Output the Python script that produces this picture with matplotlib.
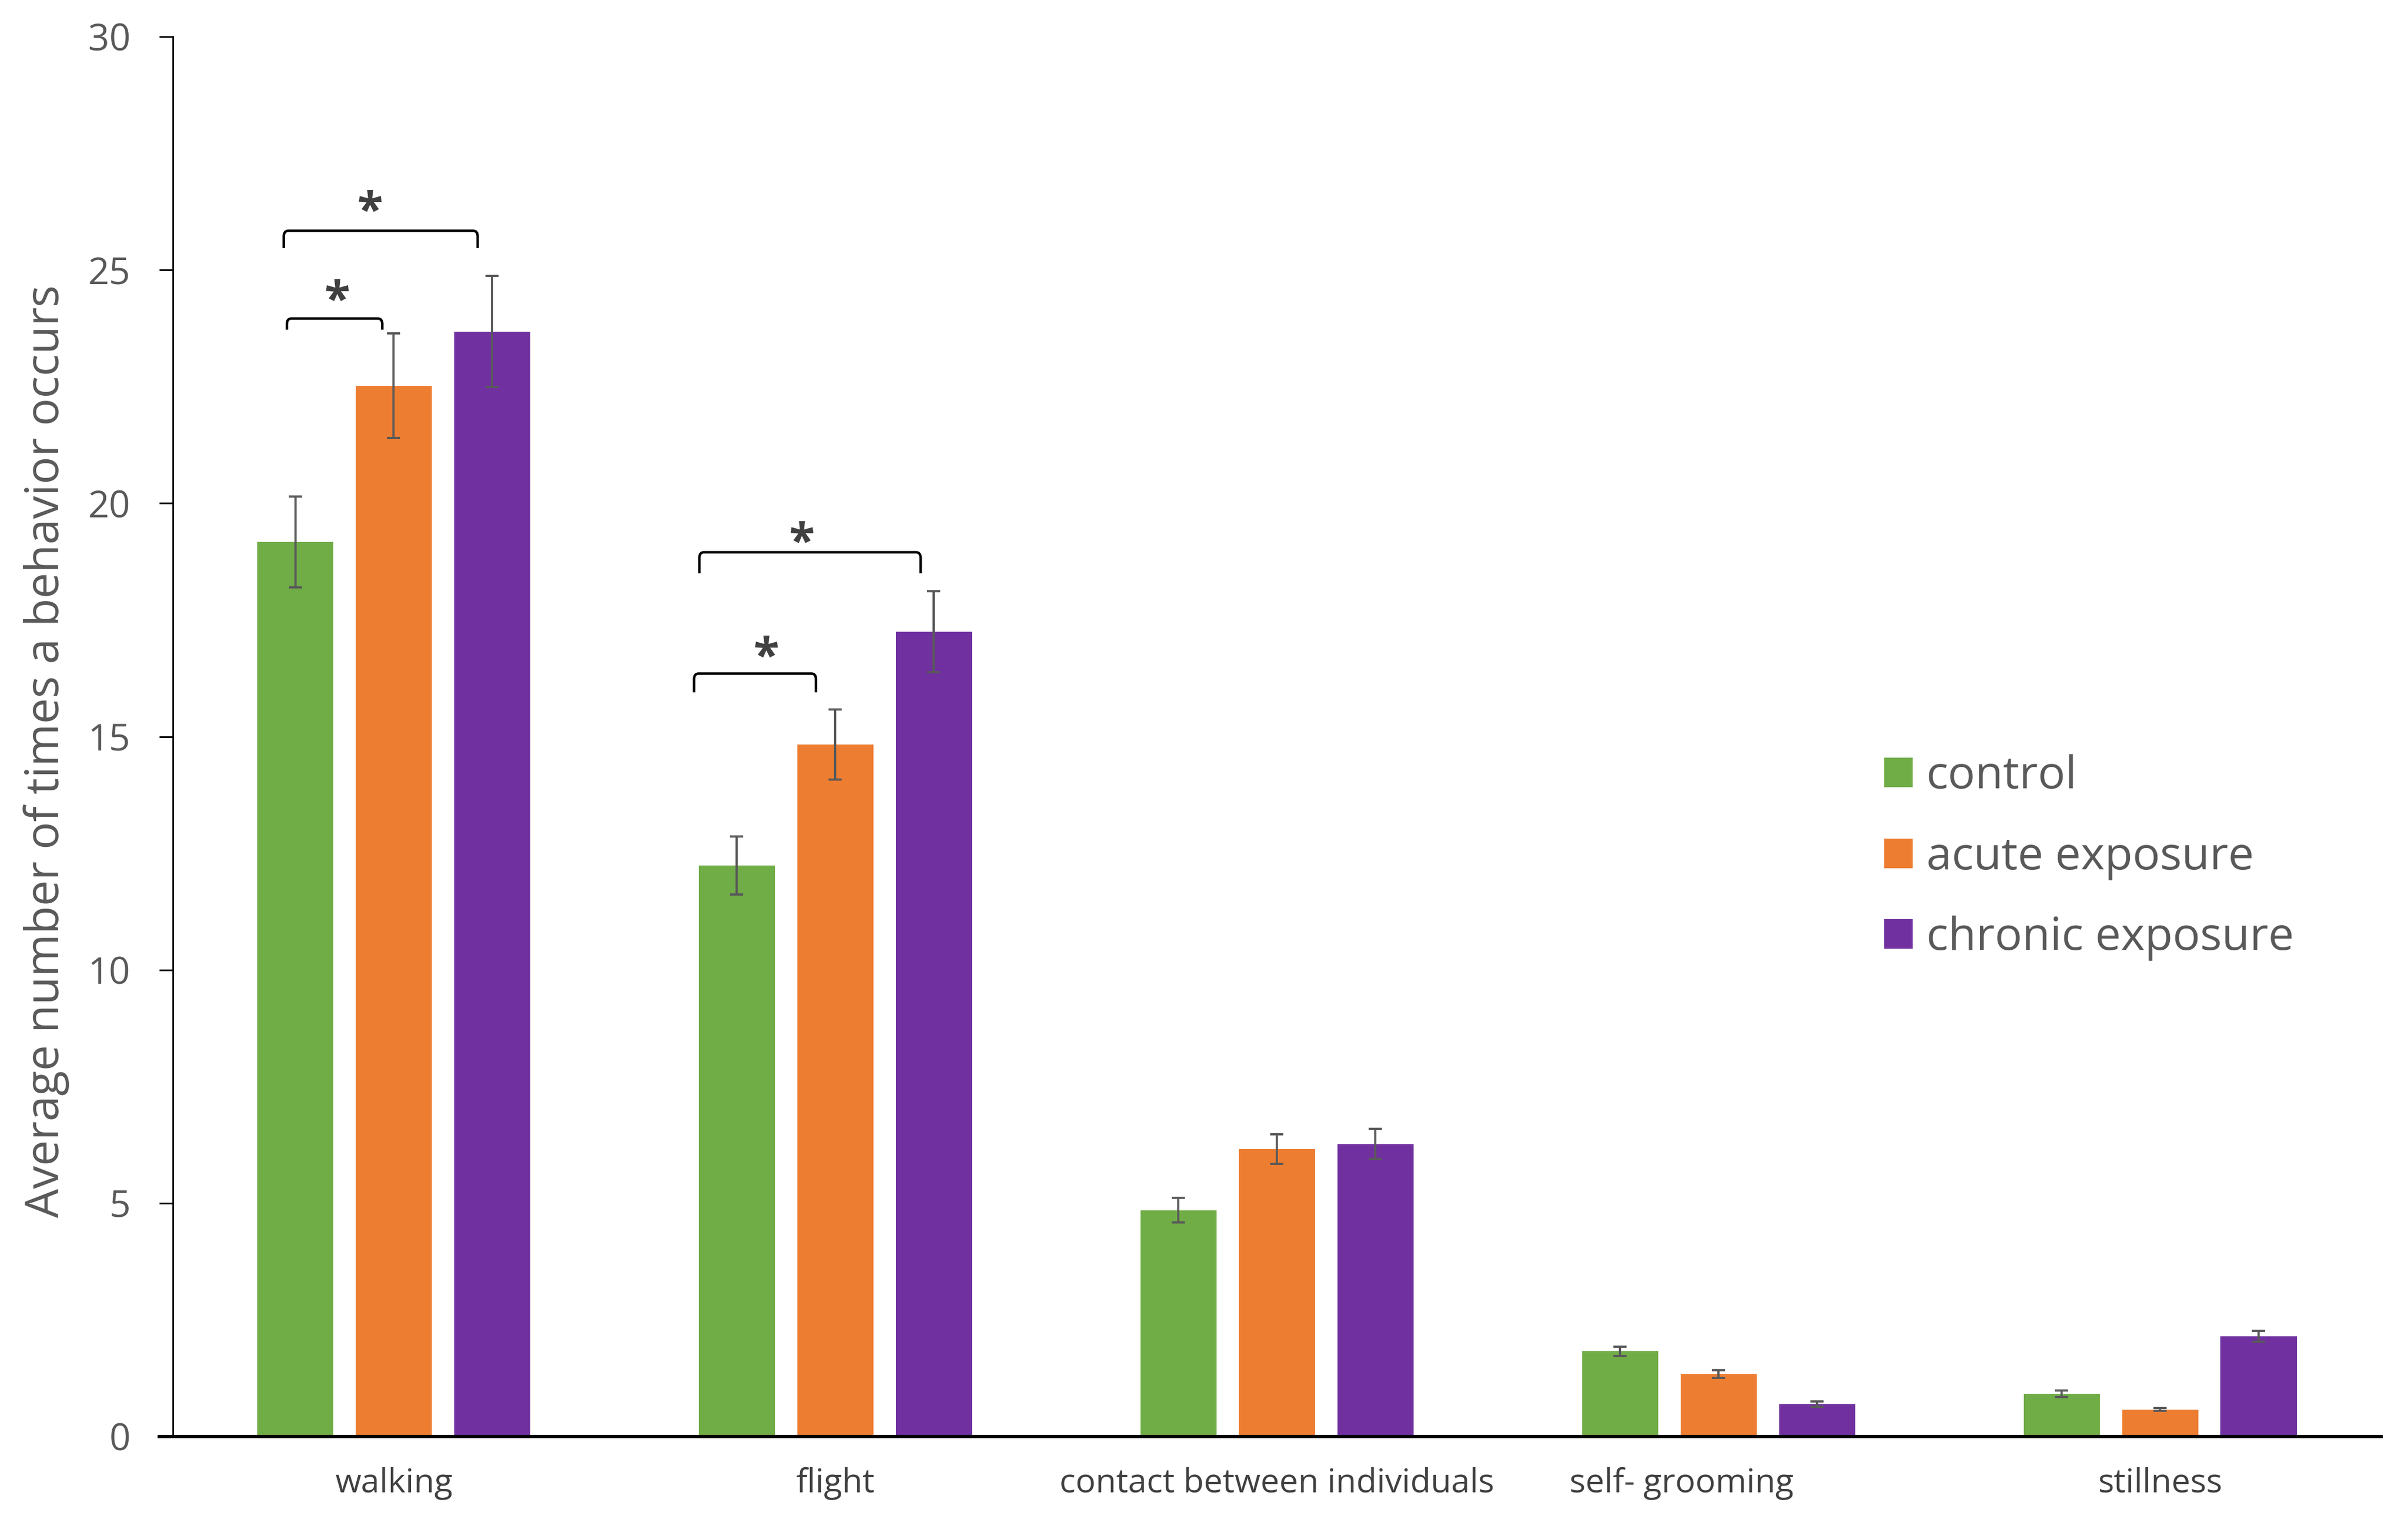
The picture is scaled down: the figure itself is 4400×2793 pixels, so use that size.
import numpy as np
import matplotlib.pyplot as plt
from matplotlib.path import Path
from matplotlib.patches import PathPatch, Patch
from matplotlib.transforms import offset_copy, ScaledTranslation

categories = ['walking', 'flight', 'contact between individuals', 'self- grooming', 'stillness']
series_names = ['control', 'acute exposure', 'chronic exposure']
colors = ['#70AD47', '#ED7D31', '#7030A0']

control = [19.17, 12.24, 4.85, 1.83, 0.92]
control_err = [0.97, 0.62, 0.26, 0.10, 0.07]
acute = [22.52, 14.83, 6.16, 1.34, 0.58]
acute_err = [1.12, 0.75, 0.32, 0.08, 0.03]
chronic = [23.68, 17.25, 6.27, 0.69, 2.15]
chronic_err = [1.19, 0.87, 0.32, 0.06, 0.12]

# significance brackets: x left, x right, y of legs, y of top, star x, star y
bracket_x0 = [-0.249, -0.242, 0.692, 0.680]
bracket_x1 = [0.190, -0.026, 1.193, 0.956]
bracket_ylow = [25.47, 23.72, 18.50, 15.95]
bracket_ytop = [25.84, 23.96, 18.95, 16.35]
star_x = [-0.054, -0.128, 0.924, 0.843]
star_y = [26.46, 24.55, 19.37, 16.91]

values = [control, acute, chronic]
errors = [control_err, acute_err, chronic_err]

plt.rcParams['font.family'] = ['Open Sans', 'DejaVu Sans']

fig = plt.figure(figsize=(44, 27.93), dpi=100)
ax = fig.add_axes([0.07182, 0.0605, 0.917, 0.9155])

x = np.arange(len(categories))
width = 0.173
step = 0.223
for i in range(3):
    ax.bar(x + (i - 1) * step, values[i], width, color=colors[i],
           yerr=errors[i],
           error_kw=dict(ecolor='#595959', elinewidth=2.9, capsize=8.6, capthick=2.9),
           zorder=2)

def bracket(x0, x1, y0, y1):
    rx = 0.010
    ry = 0.12
    verts = [(x0, y0), (x0, y1 - ry), (x0, y1), (x0 + rx, y1),
             (x1 - rx, y1), (x1, y1), (x1, y1 - ry), (x1, y0)]
    codes = [Path.MOVETO, Path.LINETO, Path.CURVE3, Path.CURVE3,
             Path.LINETO, Path.CURVE3, Path.CURVE3, Path.LINETO]
    ax.add_patch(PathPatch(Path(verts, codes), fill=False, lw=3.3,
                           edgecolor='black', capstyle='butt', zorder=3))

# the asterisk glyph sits high in its line box, so shift the text down
star_tr = offset_copy(ax.transData, fig=fig, y=-22, units='dots')
for k in range(len(bracket_x0)):
    bracket(bracket_x0[k], bracket_x1[k], bracket_ylow[k], bracket_ytop[k])
    ax.text(star_x[k], star_y[k], '*', ha='center', va='center',
            fontsize=62, fontweight='bold', color='#404040', transform=star_tr)

ax.set_xlim(-0.5, 4.5)
ax.set_ylim(0, 30)
ax.set_yticks([0, 5, 10, 15, 20, 25, 30])
ax.set_xticks(x)
ax.set_xticklabels(categories)

for s in ['top', 'right']:
    ax.spines[s].set_visible(False)
ax.spines['left'].set_linewidth(2.2)
ax.spines['bottom'].set_linewidth(4.3)
ax.spines['bottom'].set_bounds(-0.5 - 25 / 807, 4.5)

ax.tick_params(axis='y', direction='out', length=18, width=2.2, pad=38,
               labelsize=49, labelcolor='#595959')
ax.tick_params(axis='x', length=0, pad=40, labelsize=44, labelcolor='#404040')

# the self-grooming label sits left of its group in the original
lab = ax.get_xticklabels()[3]
lab.set_transform(lab.get_transform() + ScaledTranslation(-0.68, 0, fig.dpi_scale_trans))

fig.text(85 / 4400, 1 - 1372 / 2793, 'Average number of times a behavior occurs',
         rotation=90, ha='center', va='center', fontsize=60.5, color='#595959')

handles = [Patch(facecolor=c) for c in colors]
ax.legend(handles, series_names, loc='center left',
          bbox_to_anchor=(3443 / 4400, 1 - 1566.7 / 2793),
          bbox_transform=fig.transFigure, frameon=False, fontsize=60,
          labelcolor='#595959', handlelength=0.62, handleheight=0.62,
          handletextpad=0.3, labelspacing=0.78, borderpad=0, borderaxespad=0)

fig.savefig('out.png', dpi=100, facecolor='white')
